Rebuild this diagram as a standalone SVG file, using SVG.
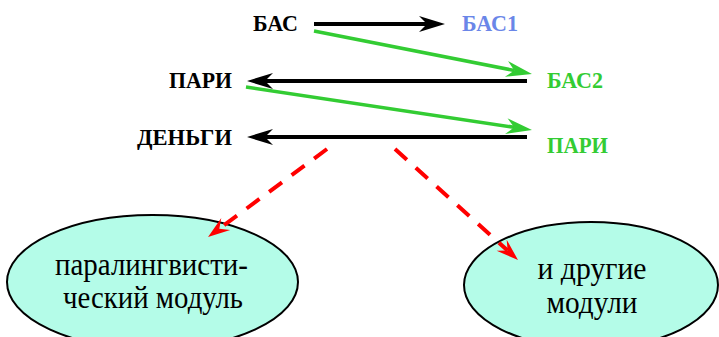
<svg xmlns="http://www.w3.org/2000/svg" width="719" height="337" viewBox="0 0 719 337">
<style>
  .lbl { font-family: "Liberation Serif", "Times New Roman", serif; font-weight: bold; font-size: 23px; }
  .blk { fill: #000000; }
  .grn { fill: #33cc33; }
  .blu { fill: #6a86e8; }
  .body { font-family: "Liberation Serif", "Times New Roman", serif; font-size: 31px; fill: #000000; text-anchor: middle; }
  .ell { fill: #b4fce8; stroke: #000000; stroke-width: 2; }
  .ab { stroke: #000000; stroke-width: 4; fill: none; }
  .ag { stroke: #33cc33; stroke-width: 3.5; fill: none; }
  .ar { stroke: #ff0000; stroke-width: 4; fill: none; stroke-dasharray: 16 12; }
</style>
<defs>
  <marker id="hb" markerUnits="userSpaceOnUse" markerWidth="34" markerHeight="20" viewBox="-12 -10 34 20" refX="0" refY="0" orient="auto">
    <path d="M18,0 L-8,-8 L0,0 L-8,8 Z" fill="#000000"/>
  </marker>
  <marker id="hg" markerUnits="userSpaceOnUse" markerWidth="34" markerHeight="20" viewBox="-12 -10 34 20" refX="0" refY="0" orient="auto">
    <path d="M18,0 L-8,-8 L0,0 L-8,8 Z" fill="#33cc33"/>
  </marker>
  <marker id="hr" markerUnits="userSpaceOnUse" markerWidth="34" markerHeight="20" viewBox="-12 -10 34 20" refX="0" refY="0" orient="auto">
    <path d="M14,0 L-8,-7.5 L0,0 L-8,7.5 Z" fill="#ff0000"/>
  </marker>
</defs>

<g id="n-bas"><text class="lbl blk" x="253" y="31" textLength="45" lengthAdjust="spacingAndGlyphs">БАС</text></g>
<g id="n-bas1"><text class="lbl blu" x="462" y="31" textLength="56" lengthAdjust="spacingAndGlyphs">БАС1</text></g>
<g id="n-pari"><text class="lbl blk" x="169" y="88" textLength="63" lengthAdjust="spacingAndGlyphs">ПАРИ</text></g>
<g id="n-bas2"><text class="lbl grn" x="547" y="88" textLength="56" lengthAdjust="spacingAndGlyphs">БАС2</text></g>
<g id="n-dengi"><text class="lbl blk" x="137" y="145" textLength="95" lengthAdjust="spacingAndGlyphs">ДЕНЬГИ</text></g>
<g id="n-pari2"><text class="lbl grn" x="547" y="153" textLength="61" lengthAdjust="spacingAndGlyphs">ПАРИ</text></g>

<g id="n-para">
  <ellipse class="ell" cx="152.5" cy="282" rx="145.5" ry="67"/>
  <text class="body" x="151.5" y="275" textLength="193" lengthAdjust="spacingAndGlyphs">паралингвисти-</text>
  <text class="body" x="153" y="308" textLength="180" lengthAdjust="spacingAndGlyphs">ческий модуль</text>
</g>
<g id="n-other">
  <ellipse class="ell" cx="591" cy="285" rx="127" ry="63"/>
  <text class="body" x="592" y="279" textLength="109" lengthAdjust="spacingAndGlyphs">и другие</text>
  <text class="body" x="592" y="313" textLength="91" lengthAdjust="spacingAndGlyphs">модули</text>
</g>

<g id="connectors">
  <line class="ab" x1="314" y1="24" x2="427" y2="24" marker-end="url(#hb)"/>
  <line class="ag" x1="314" y1="31" x2="514.3" y2="70.5" marker-end="url(#hg)"/>
  <line class="ab" x1="527" y1="81" x2="265" y2="81" marker-end="url(#hb)"/>
  <line class="ag" x1="246" y1="87" x2="514.2" y2="127.3" marker-end="url(#hg)"/>
  <line class="ab" x1="527" y1="137" x2="265" y2="137" marker-end="url(#hb)"/>
  <line class="ar" x1="327" y1="149" x2="219.3" y2="228.7" marker-end="url(#hr)"/>
  <line class="ar" x1="395" y1="149" x2="507.6" y2="250.6" marker-end="url(#hr)"/>
</g>
</svg>
